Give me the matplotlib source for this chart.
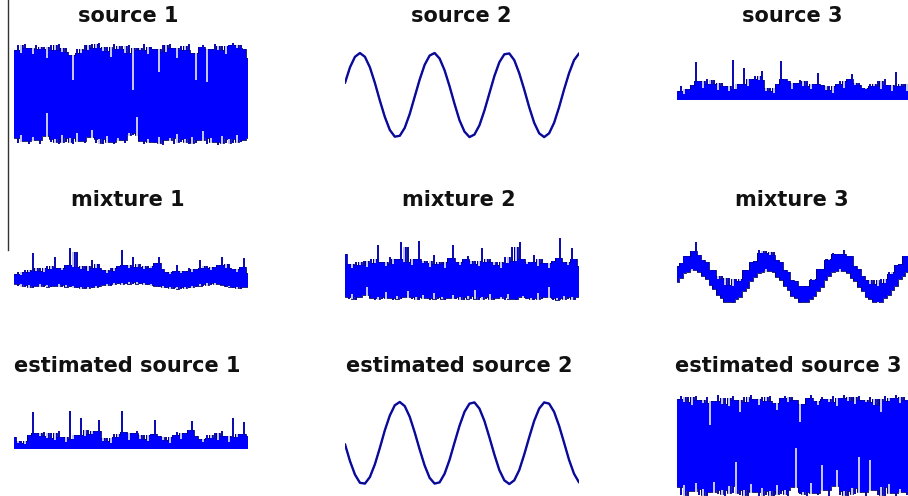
import numpy as np
import matplotlib
matplotlib.use("Agg")
import matplotlib.pyplot as plt
from matplotlib.lines import Line2D

# ---------------- data ----------------
titles = [["source 1", "source 2", "source 3"],
          ["mixture 1", "mixture 2", "mixture 3"],
          ["estimated source 1", "estimated source 2", "estimated source 3"]]

# source 1: dense noise band (upper / lower envelopes)
src1_upper = [0.85,0.95,0.80,0.97,0.90,0.78,0.96,0.88,0.92,0.70,0.95,0.85,0.98,0.82,0.90,0.75,
              0.27,0.88,0.80,0.95,0.86,0.98,0.90,0.99,0.84,0.92,0.72,0.97,0.88,0.93,0.80,0.95,
              0.08,0.90,0.85,0.97,0.78,0.92,0.88,0.43,0.95,0.82,0.98,0.90,0.70,0.94,0.86,0.97,
              0.80,0.27,0.92,0.96,0.24,0.88,0.98,0.85,0.93,0.78,0.96,0.99,0.90,0.95,0.88,0.70]
src1_lower = [-0.85,-0.95,-0.80,-0.92,-0.97,-0.83,-0.90,-0.98,-0.82,-0.37,-0.94,-0.88,-0.97,-0.80,-0.93,-0.86,
              -0.98,-0.75,-0.91,-0.96,-0.84,-0.70,-0.95,-0.88,-0.97,-0.82,-0.93,-0.98,-0.86,-0.90,-0.95,-0.75,
              -0.80,-0.45,-0.92,-0.98,-0.87,-0.94,-0.96,-0.83,-0.99,-0.90,-0.85,-0.97,-0.78,-0.93,-0.88,-0.98,
              -0.84,-0.95,-0.90,-0.72,-0.97,-0.86,-0.93,-0.99,-0.82,-0.95,-0.88,-0.96,-0.80,-0.94,-0.90,-0.85]

# source 2: sinusoid samples
src2 = [0.29,0.66,0.91,1.00,0.91,0.66,0.29,-0.13,-0.52,-0.83,-0.99,-0.97,-0.78,-0.45,-0.04,0.37,
        0.72,0.94,1.00,0.87,0.59,0.21,-0.21,-0.60,-0.87,-1.00,-0.94,-0.72,-0.37,0.04,0.45,0.78,
        0.97,0.99,0.83,0.52,0.13,-0.29,-0.66,-0.91,-1.00,-0.91,-0.66,-0.29,0.13,0.52,0.83,0.99]

# source 3: sparse positive spikes above a floor
src3_upper = [0.05,0.15,0.00,0.10,0.18,0.62,0.25,0.12,0.30,0.20,0.28,0.08,0.22,0.15,0.05,0.66,
              0.10,0.20,0.50,0.15,0.30,0.35,0.28,0.45,0.05,0.12,0.02,0.20,0.65,0.30,0.25,0.10,
              0.22,0.28,0.15,0.25,0.10,0.20,0.40,0.18,0.08,0.15,0.02,0.20,0.25,0.12,0.30,0.38,
              0.18,0.22,0.12,0.10,0.20,0.15,0.25,0.10,0.30,0.18,0.05,0.42,0.15,0.20,0.05,0.35]
src3_floor = -0.12

# mixture 1
mix1_upper = [-0.10,-0.05,-0.12,0.00,-0.06,0.45,-0.02,0.05,-0.04,0.10,0.02,0.34,0.06,0.00,0.12,0.58,
              0.08,0.47,0.03,0.10,-0.02,0.26,0.05,0.15,0.00,-0.08,0.04,-0.02,0.10,0.53,0.12,0.05,
              0.34,0.08,0.15,0.02,0.10,0.06,0.18,0.34,0.02,-0.05,-0.10,-0.02,0.13,-0.08,-0.03,0.05,
              -0.06,0.02,0.26,0.04,0.10,0.00,0.08,0.12,0.34,0.05,0.15,0.02,-0.04,0.08,0.32,-0.08]
mix1_lower = [-0.38,-0.42,-0.36,-0.45,-0.40,-0.47,-0.43,-0.38,-0.44,-0.40,-0.46,-0.42,-0.37,-0.44,-0.40,-0.45,
              -0.41,-0.48,-0.44,-0.50,-0.45,-0.47,-0.42,-0.46,-0.40,-0.36,-0.41,-0.34,-0.38,-0.33,-0.37,-0.32,
              -0.36,-0.31,-0.38,-0.35,-0.40,-0.37,-0.43,-0.45,-0.41,-0.48,-0.45,-0.50,-0.46,-0.49,-0.44,-0.48,
              -0.42,-0.45,-0.38,-0.41,-0.35,-0.39,-0.34,-0.38,-0.40,-0.44,-0.41,-0.47,-0.45,-0.50,-0.46,-0.44]

# mixture 2
mix2_upper = [0.42,0.15,0.05,0.20,0.12,0.25,0.08,0.30,0.18,0.66,0.22,0.10,0.35,0.15,0.28,0.74,
              0.20,0.60,0.12,0.30,0.76,0.18,0.25,0.08,0.40,0.15,0.22,0.05,0.32,0.66,0.20,0.12,
              0.28,0.38,0.15,0.25,0.10,0.58,0.22,0.30,0.12,0.20,0.05,0.35,0.18,0.60,0.25,0.74,
              0.30,0.15,0.22,0.40,0.10,0.28,0.18,0.05,0.25,0.32,0.84,0.20,0.12,0.58,0.30,0.10]
mix2_lower = [-0.70,-0.75,-0.62,-0.78,-0.72,-0.66,-0.45,-0.74,-0.80,-0.70,-0.76,-0.58,-0.73,-0.79,-0.68,-0.75,
              -0.71,-0.55,-0.77,-0.72,-0.80,-0.66,-0.74,-0.78,-0.60,-0.75,-0.70,-0.79,-0.73,-0.65,-0.77,-0.72,
              -0.80,-0.68,-0.75,-0.52,-0.78,-0.71,-0.76,-0.64,-0.79,-0.73,-0.70,-0.78,-0.62,-0.75,-0.80,-0.72,
              -0.68,-0.77,-0.74,-0.79,-0.60,-0.76,-0.71,-0.45,-0.78,-0.73,-0.80,-0.69,-0.76,-0.72,-0.78,-0.70]

# mixture 3 (noisy sinusoid band)
mix3_upper = [0.10,0.19,0.36,0.38,0.49,0.74,0.39,0.26,0.20,0.01,0.01,-0.23,-0.17,-0.40,-0.22,-0.41,
              -0.23,-0.28,0.01,-0.01,0.22,0.24,0.53,0.44,0.51,0.40,0.48,0.26,0.20,-0.01,-0.06,-0.26,
              -0.30,-0.43,-0.41,-0.42,-0.24,-0.25,0.03,0.02,0.28,0.27,0.45,0.43,0.43,0.53,0.38,0.38,
              0.11,0.03,-0.17,-0.25,-0.38,-0.27,-0.43,-0.24,-0.33,-0.05,-0.11,0.14,0.17,0.36,0.37,0.48]
mix3_lower = [-0.32,-0.22,-0.08,-0.05,0.03,-0.01,-0.04,-0.16,-0.23,-0.39,-0.51,-0.67,-0.73,-0.84,-0.84,-0.87,
              -0.77,-0.71,-0.56,-0.47,-0.29,-0.19,-0.07,-0.04,0.03,-0.02,-0.05,-0.19,-0.25,-0.42,-0.53,-0.69,
              -0.74,-0.86,-0.85,-0.85,-0.75,-0.68,-0.54,-0.44,-0.26,-0.17,-0.06,-0.03,0.03,-0.03,-0.07,-0.20,
              -0.28,-0.44,-0.56,-0.71,-0.76,-0.85,-0.84,-0.85,-0.74,-0.66,-0.52,-0.41,-0.24,-0.15,-0.04,-0.01]

# estimated source 1 (spiky)
est1_upper = [0.18,0.06,0.10,0.04,0.22,0.66,0.25,0.20,0.28,0.15,0.26,0.12,0.30,0.18,0.08,0.68,
              0.14,0.22,0.54,0.20,0.32,0.24,0.30,0.50,0.10,0.16,0.06,0.24,0.18,0.68,0.28,0.12,
              0.26,0.30,0.14,0.22,0.10,0.24,0.50,0.20,0.12,0.18,0.06,0.22,0.28,0.14,0.26,0.32,
              0.49,0.20,0.14,0.08,0.22,0.16,0.26,0.12,0.30,0.20,0.08,0.54,0.18,0.24,0.47,0.20]
est1_floor = -0.06

# estimated source 2 (sinusoid)
est2 = [-0.03,-0.44,-0.77,-0.97,-0.99,-0.83,-0.52,-0.12,0.31,0.67,0.92,1.00,0.90,0.64,0.26,-0.16,
        -0.55,-0.85,-0.99,-0.96,-0.75,-0.41,0.01,0.42,0.76,0.96,0.99,0.84,0.54,0.14,-0.28,-0.66,
        -0.91,-1.00,-0.91,-0.66,-0.28,0.14,0.54,0.84,0.99,0.96,0.76,0.42,0.01,-0.41,-0.75,-0.96]

# estimated source 3 (dense noise band)
est3_upper = [0.92,0.98,0.85,0.95,0.80,0.97,0.90,0.83,0.96,0.41,0.88,0.99,0.82,0.94,0.78,0.97,
              0.90,0.66,0.95,0.86,0.99,0.92,0.80,0.96,0.88,0.98,0.84,0.70,0.93,0.97,0.86,0.95,
              0.90,0.47,0.82,0.94,0.99,0.88,0.80,0.96,0.91,0.85,0.97,0.78,0.93,0.99,0.87,0.95,
              0.82,0.98,0.90,0.86,0.96,0.80,0.92,0.66,0.97,0.88,0.94,0.99,0.84,0.95,0.90,0.86]
est3_lower = [-0.80,-0.95,-0.75,-0.98,-0.88,-0.72,-0.96,-0.84,-0.99,-0.90,-0.70,-0.94,-0.86,-0.98,-0.78,-0.92,
              -0.31,-0.96,-0.85,-0.99,-0.74,-0.90,-0.97,-0.82,-0.95,-0.88,-0.99,-0.76,-0.93,-0.86,-0.97,-0.80,
              -0.04,-0.94,-0.89,-0.98,-0.72,-0.92,-0.96,-0.37,-0.85,-0.99,-0.78,-0.47,-0.95,-0.88,-0.97,-0.82,
              -0.93,-0.21,-0.90,-0.98,-0.27,-0.86,-0.95,-0.80,-0.99,-0.74,-0.92,-0.97,-0.84,-0.90,-0.96,-0.88]

# ---------------- layout / style ----------------
W, H = 908, 496
fig = plt.figure(figsize=(W / 100, H / 100), dpi=100)
fig.patch.set_facecolor("white")

col_left = [14, 345, 677]
col_width = 234
row_top = [40, 232, 392]
row_height = [108, 76, 108]
title_baseline = [22, 206, 372]
title_x = [[128, 461, 792], [128, 459, 792], [127, 459, 788]]

BLUE = "#0000ff"
EDGE = "#000060"
SPIKE = "#0a0a9a"


def make_ax(r, c, ylim):
    l = col_left[c] / W
    b = 1 - (row_top[r] + row_height[r]) / H
    ax = fig.add_axes([l, b, col_width / W, row_height[r] / H])
    ax.set_xlim(0, 1)
    ax.set_ylim(*ylim)
    ax.axis("off")
    return ax


def median3(a):
    """Rendering helper: 3-sample median, used as the solid body of the trace."""
    p = np.concatenate([a[:1], a, a[-1:]])
    return np.median(np.vstack([p[:-2], p[1:-1], p[2:]]), axis=0)


def band(ax, upper, lower):
    u = np.asarray(upper, dtype=float)
    x = np.linspace(0, 1, len(u))
    has_lower = np.ndim(lower) > 0
    lo = np.asarray(lower, dtype=float) if has_lower else np.full_like(u, lower)
    um = median3(u)
    lm = median3(lo) if has_lower else lo
    # solid body of the dense trace
    ax.fill_between(x, lm, um, step="mid", color=BLUE, lw=0)
    ax.step(x, um, where="mid", color=EDGE, lw=0.6)
    if has_lower:
        ax.step(x, lm, where="mid", color=EDGE, lw=0.6)
    # thin excursions of the trace beyond the body
    ax.vlines(x, lo, u, color=BLUE, lw=1.3)
    up_sp = u > um
    ax.vlines(x[up_sp], um[up_sp], u[up_sp], color=SPIKE, lw=1.1)
    dn = u < um
    ax.vlines(x[dn], u[dn], um[dn] + 0.02, color="white", lw=1.1)
    if has_lower:
        lo_sp = lo < lm
        ax.vlines(x[lo_sp], lo[lo_sp], lm[lo_sp], color=SPIKE, lw=1.1)
        up = lo > lm
        ax.vlines(x[up], lm[up] - 0.02, lo[up], color="white", lw=1.1)


def wave(ax, y):
    y = np.asarray(y, dtype=float)
    x = np.linspace(0, 1, len(y))
    ax.plot(x, y, color=BLUE, lw=1.7, solid_capstyle="round")
    ax.plot(x, y, color="#141450", lw=0.9)


# row 1
band(make_ax(0, 0, (-1.05, 1.05)), src1_upper, src1_lower)
wave(make_ax(0, 1, (-1.26, 1.31)), src2)
band(make_ax(0, 2, (-1.05, 1.05)), src3_upper, src3_floor)
# row 2
band(make_ax(1, 0, (-1, 1)), mix1_upper, mix1_lower)
band(make_ax(1, 1, (-1, 1)), mix2_upper, mix2_lower)
band(make_ax(1, 2, (-1, 1)), mix3_upper, mix3_lower)
# row 3
band(make_ax(2, 0, (-1.05, 1.05)), est1_upper, est1_floor)
wave(make_ax(2, 1, (-1.39, 1.244)), est2)
band(make_ax(2, 2, (-1.05, 1.05)), est3_upper, est3_lower)

for r in range(3):
    for c in range(3):
        fig.text(title_x[r][c] / W, 1 - title_baseline[r] / H, titles[r][c],
                 ha="center", va="baseline", fontsize=15, fontweight="bold",
                 family="DejaVu Sans", color="#111111")

# thin vertical rule at the left edge of the screenshot
fig.add_artist(Line2D([8 / W, 8 / W], [1, 1 - 250 / H], transform=fig.transFigure,
                      color="#333333", lw=1.0))

fig.savefig("out.png", dpi=100, facecolor="white")
